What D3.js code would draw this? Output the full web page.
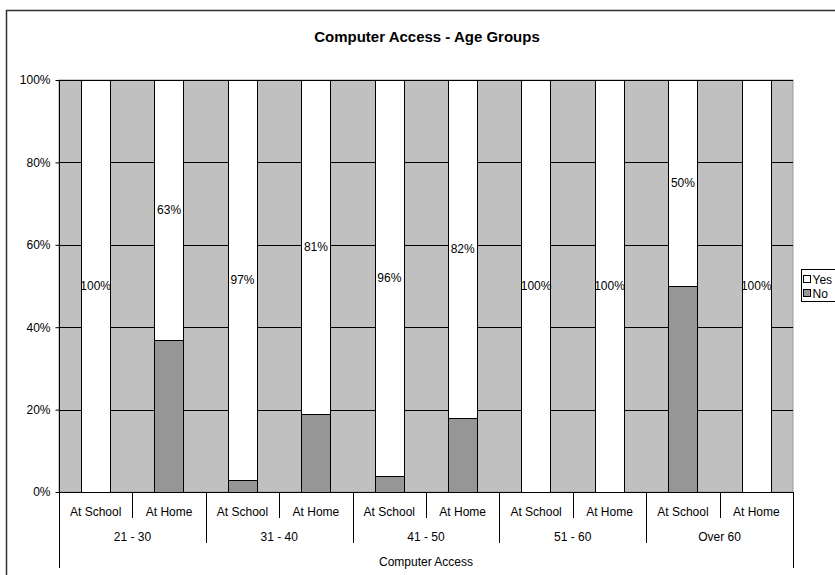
<!DOCTYPE html>
<html>
<head>
<meta charset="utf-8">
<script src="https://cdn.jsdelivr.net/npm/d3@7"></script>
<style>
  html, body { margin: 0; padding: 0; background: #fff; }
  svg { display: block; font-family: "Liberation Sans", Arial, sans-serif; }
</style>
</head>
<body>
<svg id="chart" width="835" height="575"></svg>
<script>
// Age groups and the two access locations within each group
const groups = ["21 - 30", "31 - 40", "41 - 50", "51 - 60", "Over 60"];
const places = ["At School", "At Home"];
// Share (%) answering Yes / No, in order group by group, School then Home
const yesValues = [100, 63, 97, 81, 96, 82, 100, 100, 50, 100];
const noValues  = [0, 37, 3, 19, 4, 18, 0, 0, 50, 0];
const yTicks = [0, 20, 40, 60, 80, 100];
const seriesNames = ["Yes", "No"];

const svg = d3.select("#chart");
const plot = { left: 59, right: 793, top: 80, bottom: 492 };
const FS = 12;

const rows = [];
groups.forEach((g, gi) => places.forEach((p, pi) => {
  const i = gi * places.length + pi;
  rows.push({ key: g + "|" + p, group: g, place: p, Yes: yesValues[i], No: noValues[i] });
}));

const x = d3.scaleBand().domain(rows.map(d => d.key))
  .range([plot.left, plot.right]).paddingInner(0.6).paddingOuter(0.3);
const xStep = d3.scaleBand().domain(rows.map(d => d.key))
  .range([plot.left, plot.right]).padding(0);
const y = d3.scaleLinear().domain([0, 100]).range([plot.bottom, plot.top]);
const color = d3.scaleOrdinal().domain(seriesNames).range(["#ffffff", "#969696"]);

// Outer chart frame
svg.append("rect").attr("x", 6.5).attr("y", 10.5).attr("width", 850).attr("height", 600)
  .attr("fill", "#fff").attr("stroke", "#333").attr("stroke-width", 1.5);

// Title
svg.append("text").attr("x", 427).attr("y", 42).attr("text-anchor", "middle")
  .attr("font-size", 15).attr("font-weight", "bold").text("Computer Access - Age Groups");

// Plot background
svg.append("rect").attr("x", plot.left).attr("y", plot.top)
  .attr("width", plot.right - plot.left).attr("height", plot.bottom - plot.top)
  .attr("fill", "#c0c0c0").attr("stroke", "#999").attr("stroke-width", 1);

// Gridlines
svg.append("g").selectAll("line").data(yTicks.filter(t => t > 0)).join("line")
  .attr("x1", plot.left).attr("x2", plot.right)
  .attr("y1", d => Math.round(y(d)) + 0.5).attr("y2", d => Math.round(y(d)) + 0.5)
  .attr("stroke", "#000").attr("stroke-width", 1);

// Stacked bars
const stack = d3.stack().keys(["No", "Yes"]);
const layers = stack(rows);
svg.append("g").selectAll("g").data(layers).join("g")
  .attr("fill", d => color(d.key))
  .selectAll("rect").data(d => d.filter(s => s[1] - s[0] > 0)).join("rect")
  .attr("x", d => Math.round(x(d.data.key)) + 0.5)
  .attr("width", Math.round(x.bandwidth()))
  .attr("y", d => Math.round(y(d[1])) + 0.5)
  .attr("height", d => Math.round(y(d[0])) - Math.round(y(d[1])))
  .attr("stroke", "#000").attr("stroke-width", 1);

// Value labels on the Yes segments
const yesLayer = layers.find(l => l.key === "Yes");
svg.append("g").selectAll("text").data(yesLayer).join("text")
  .attr("x", d => x(d.data.key) + x.bandwidth() / 2)
  .attr("y", d => y((d[0] + d[1]) / 2))
  .attr("dy", "0.35em").attr("text-anchor", "middle")
  .attr("font-size", FS).text(d => d.data.Yes + "%");

// Y axis
const yAxis = svg.append("g").attr("transform", `translate(${plot.left + 0.5},0)`)
  .call(d3.axisLeft(y).tickValues(yTicks).tickFormat(d => d + "%").tickSize(4).tickPadding(5));
yAxis.select(".domain").attr("stroke", "#000").attr("d", `M0,${plot.top}V${plot.bottom}`);
yAxis.selectAll(".tick line").attr("stroke", "#000");
yAxis.selectAll(".tick text").attr("font-size", FS).attr("font-family", "Liberation Sans, Arial, sans-serif").attr("fill", "#000");

// Category axis: baseline, place labels, group labels and separators
const axisG = svg.append("g");
axisG.append("line").attr("x1", plot.left).attr("x2", plot.right)
  .attr("y1", plot.bottom + 0.5).attr("y2", plot.bottom + 0.5).attr("stroke", "#000");

axisG.selectAll("text.place").data(rows).join("text").attr("class", "place")
  .attr("x", d => xStep(d.key) + xStep.bandwidth() / 2).attr("y", 515.5)
  .attr("text-anchor", "middle").attr("font-size", FS).text(d => d.place);

const boundaries = d3.range(rows.length + 1).map(i => ({
  x: plot.left + i * xStep.step(),
  kind: (i === 0 || i === rows.length) ? "outer" : (i % places.length === 0 ? "group" : "place")
}));
const sepEnd = { outer: 568, group: 543, place: 518 };
axisG.selectAll("line.sep").data(boundaries).join("line").attr("class", "sep")
  .attr("x1", d => Math.round(d.x) + 0.5).attr("x2", d => Math.round(d.x) + 0.5)
  .attr("y1", plot.bottom).attr("y2", d => sepEnd[d.kind])
  .attr("stroke", "#000");

axisG.selectAll("text.group").data(groups).join("text").attr("class", "group")
  .attr("x", (g, gi) => plot.left + (gi + 0.5) * places.length * xStep.step())
  .attr("y", 540.5).attr("text-anchor", "middle").attr("font-size", FS).text(g => g);

svg.append("text").attr("x", (plot.left + plot.right) / 2).attr("y", 565.5)
  .attr("text-anchor", "middle").attr("font-size", FS).text("Computer Access");

// Legend
const legend = svg.append("g").attr("transform", "translate(801.5,269.5)");
legend.append("rect").attr("width", 60).attr("height", 32)
  .attr("fill", "#fff").attr("stroke", "#000");
const li = legend.selectAll("g").data(seriesNames).join("g")
  .attr("transform", (d, i) => `translate(2,${6 + i * 14})`);
li.append("rect").attr("width", 7).attr("height", 7)
  .attr("fill", d => color(d)).attr("stroke", "#000");
li.append("text").attr("x", 9).attr("y", 4).attr("dy", "0.35em")
  .attr("font-size", FS).text(d => d);
</script>
</body>
</html>
